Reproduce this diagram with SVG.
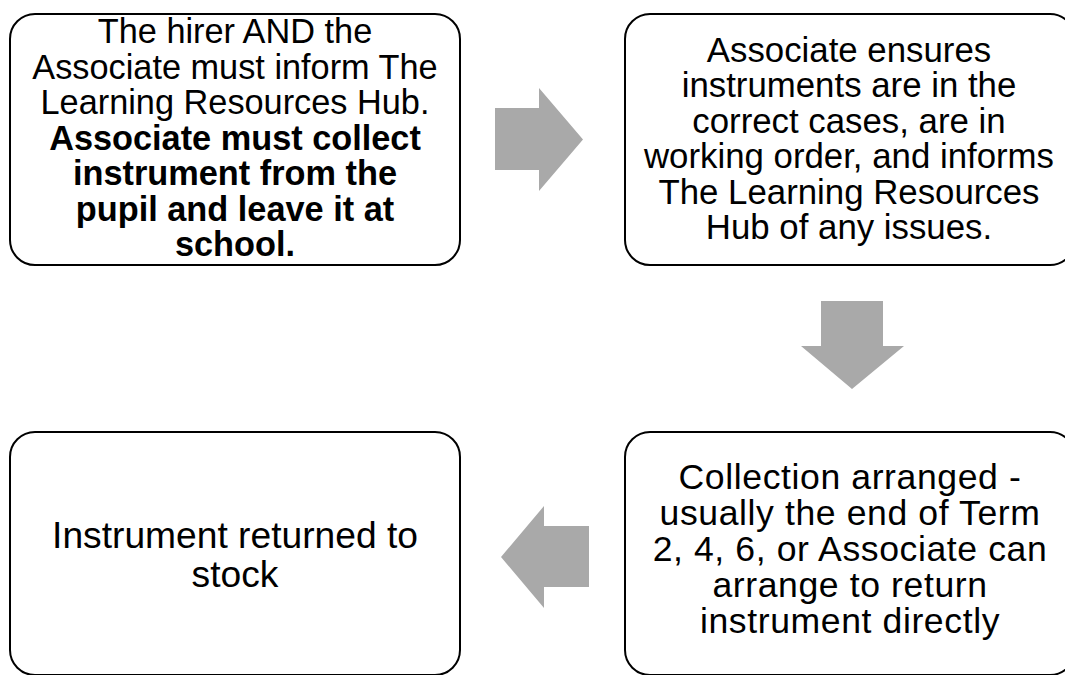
<svg xmlns="http://www.w3.org/2000/svg" width="1065" height="675" viewBox="0 0 1065 675">
<style>
.box{fill:#ffffff;stroke:#000000;stroke-width:2}
.t{font-family:"Liberation Sans",Arial,sans-serif;font-size:34.3px;fill:#000000;text-anchor:middle}
.t2{font-size:34.8px}
.mid{font-size:35.6px;letter-spacing:0.6px}
.big{font-size:37.2px}
.b{font-weight:bold}
.arr{fill:#a9a9a9}
</style>
<rect width="1065" height="675" fill="#ffffff"/>
<g id="connectors">
<polygon class="arr" points="495,108 539,108 539,88 583,139.5 539,191 539,170 495,170"/>
<polygon class="arr" points="821,301 883,301 883,346 904,346 852,389 801,346 821,346"/>
<polygon class="arr" points="589,526 544,526 544,506 501,557 544,608 544,587 589,587"/>
</g>
<g id="node1">
<rect class="box" x="10" y="14" width="450" height="251" rx="25" ry="25"/>
<text class="t" x="235" y="43">The hirer AND the</text>
<text class="t" x="235" y="78.5">Associate must inform The</text>
<text class="t" x="235" y="114">Learning Resources Hub.</text>
<text class="t b" x="235" y="149.5">Associate must collect</text>
<text class="t b" x="235" y="185">instrument from the</text>
<text class="t b" x="235" y="220.5">pupil and leave it at</text>
<text class="t b" x="235" y="256">school.</text>
</g>
<g id="node2">
<rect class="box" x="625" y="14" width="450" height="251" rx="25" ry="25"/>
<text class="t t2" x="849" y="61.7">Associate ensures</text>
<text class="t t2" x="849" y="97">instruments are in the</text>
<text class="t t2" x="849" y="132.5">correct cases, are in</text>
<text class="t t2" x="849" y="168">working order, and informs</text>
<text class="t t2" x="849" y="203.5">The Learning Resources</text>
<text class="t t2" x="849" y="238.5">Hub of any issues.</text>
</g>
<g id="node3">
<rect class="box" x="625" y="432" width="450" height="243" rx="25" ry="25"/>
<text class="t mid" x="850" y="489">Collection arranged -</text>
<text class="t mid" x="850" y="525">usually the end of Term</text>
<text class="t mid" x="850" y="561">2, 4, 6, or Associate can</text>
<text class="t mid" x="850" y="597">arrange to return</text>
<text class="t mid" x="850" y="633">instrument directly</text>
</g>
<g id="node4">
<rect class="box" x="10" y="432" width="450" height="243" rx="25" ry="25"/>
<text class="t big" x="235" y="548">Instrument returned to</text>
<text class="t big" x="235" y="587">stock</text>
</g>
</svg>
